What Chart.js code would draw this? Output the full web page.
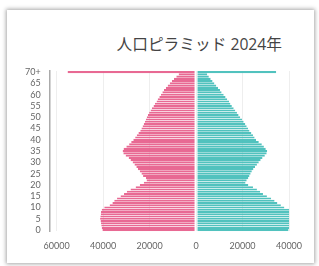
<!DOCTYPE html>
<html lang="ja">
<head>
  <meta charset="UTF-8" />
  <title>人口ピラミッド 2024年</title>
  <style>
    body {
      margin: 0;
      width: 319px;
      height: 266px;
      background: #fff;
      overflow: hidden;
      position: relative;
    }
    .card {
      position: absolute;
      left: 7px;
      top: 10px;
      width: 307px;
      height: 253px;
      background: #fff;
      box-shadow: 0 0 4px 1px rgba(0, 0, 0, 0.35);
    }
    .title {
      position: absolute;
      left: 0;
      top: 34px;
      width: 282px;
      text-align: right;
      font-family: "Open Sans", "Noto Sans CJK JP", sans-serif;
      font-size: 15.7px;
      color: #444;
      line-height: 20px;
    }
    #pyramid {
      position: absolute;
      left: 0;
      top: 0;
    }
  </style>
</head>
<body>
  <div class="card"></div>
  <div class="title">人口ピラミッド 2024年</div>
  <canvas id="pyramid" width="319" height="266"></canvas>

  <script src="https://cdn.jsdelivr.net/npm/chart.js"></script>
  <script>
    // 年齢 0〜69, 70+
    const ages = [];
    for (let i = 0; i < 70; i++) ages.push(String(i));
    ages.push('70+');

    // 左側（ピンク）
    const leftPop = [
      40300, 40600, 40800, 40900, 41100, 41300, 41200, 41000, 40900, 40600,
      39500, 37200, 36000, 35200, 34000, 32500, 31000, 29800, 28200, 26000,
      24200, 22500, 21300, 21600, 22800, 23500, 24200, 25000, 25700, 26500,
      27300, 28200, 29000, 30300, 31300, 31600, 31200, 30000, 28800, 27900,
      27000, 26200, 25500, 24800, 24000, 23500, 23000, 22500, 22000, 21600,
      21200, 20700, 20200, 19600, 19000, 18300, 17700, 17000, 16500, 15800,
      15100, 14500, 13800, 13000, 12200, 11300, 10400, 9500, 8500, 7500,
      55300
    ];
    // 右側（ターコイズ）
    const rightPop = [
      39800, 40200, 40500, 40500, 40600, 40600, 40700, 40900, 41200, 40000,
      38000, 36500, 35000, 33800, 32300, 30500, 28800, 27600, 26200, 24500,
      22500, 21300, 21800, 22500, 23000, 23500, 24000, 24700, 25400, 26200,
      27000, 27800, 28600, 29600, 30400, 30600, 30000, 29200, 28300, 27000,
      25800, 25200, 24500, 23800, 23000, 22400, 21800, 21200, 20500, 19800,
      19000, 18300, 17600, 16900, 16200, 15400, 14800, 14200, 13400, 12700,
      11900, 11000, 10300, 9500, 8700, 7900, 7100, 6300, 5500, 4800,
      34500
    ];
    const xTicks = [-60000, -40000, -20000, 0, 20000, 40000];

    const ctx = document.getElementById('pyramid').getContext('2d');
    new Chart(ctx, {
      type: 'bar',
      data: {
        labels: ages,
        datasets: [
          {
            label: 'left',
            data: leftPop.map(v => -v),
            backgroundColor: 'rgba(230, 92, 138, 0.92)',
            borderColor: 'rgba(255, 255, 255, 0.5)',
            borderWidth: { right: 1, left: 0, top: 0, bottom: 0 },
            borderSkipped: false,
            barPercentage: 0.94,
            categoryPercentage: 1
          },
          {
            label: 'right',
            data: rightPop,
            backgroundColor: 'rgba(66, 189, 184, 0.92)',
            borderColor: 'rgba(255, 255, 255, 0.5)',
            borderWidth: { left: 1, right: 0, top: 0, bottom: 0 },
            borderSkipped: false,
            barPercentage: 0.94,
            categoryPercentage: 1
          }
        ]
      },
      options: {
        indexAxis: 'y',
        responsive: false,
        animation: false,
        layout: { padding: { left: 16, right: 30, top: 71, bottom: 6 } },
        plugins: {
          legend: { display: false },
          tooltip: { enabled: false }
        },
        scales: {
          x: {
            stacked: true,
            min: -63000,
            max: 40000,
            afterBuildTicks: axis => { axis.ticks = xTicks.map(v => ({ value: v })); },
            grid: { color: '#eeeeee', drawTicks: false },
            border: { display: false },
            ticks: {
              padding: 9,
              color: '#666',
              font: { family: 'Lato', size: 9 },
              maxRotation: 0,
              callback: v => String(Math.abs(v))
            }
          },
          y: {
            stacked: true,
            reverse: true,
            grid: { display: false, drawTicks: false },
            border: { display: true, color: '#aaaaaa', width: 1.5 },
            ticks: {
              autoSkip: false,
              padding: 9,
              color: '#666',
              font: { family: 'Lato', size: 9 },
              callback: function (v, i) { return i % 5 === 0 ? ages[i] : ''; }
            }
          }
        }
      }
    });
  </script>
</body>
</html>
